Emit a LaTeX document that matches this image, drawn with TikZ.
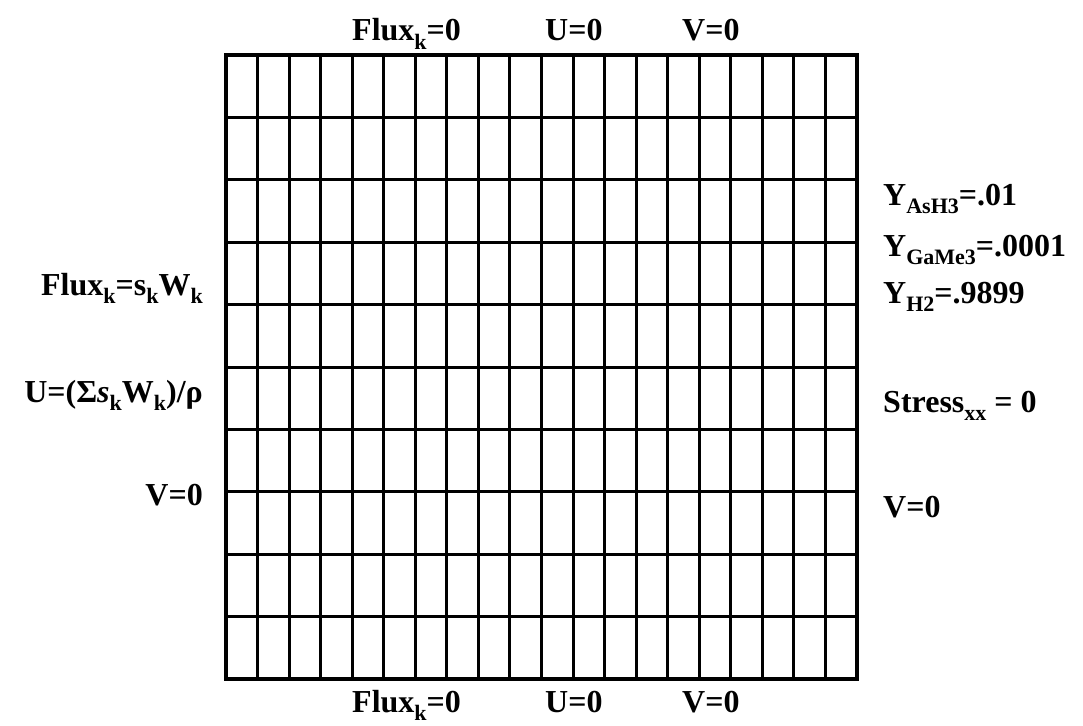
\documentclass[tikz,border=0pt]{standalone}
\usepackage{fontspec}
\setmainfont{Liberation Serif}
\newcommand{\lsub}[1]{\raisebox{-0.28em}{\fontsize{22}{22}\selectfont #1}}
\begin{document}
\begin{tikzpicture}[x=1pt,y=-1pt,
  lab/.style={font=\fontsize{32}{36}\selectfont\bfseries, inner sep=0pt},
  gridline/.style={line width=3pt},
  border/.style={line width=3.6pt}]
\useasboundingbox (0,0) rectangle (1083,725);
\foreach \i in {0,...,20} \draw[gridline] (226+\i*31.55,55) -- (226+\i*31.55,679);
\foreach \j in {0,...,10} \draw[gridline] (226,55+\j*62.4) -- (857,55+\j*62.4);
\draw[border] (226,55) rectangle (857,679);
% top
\node[lab,anchor=base west] (tflux) at (352,41) {Flux\lsub{k}=0};
\node[lab,anchor=base west] (tu) at (545,41) {U=0};
\node[lab,anchor=base west] (tv) at (682,41) {V=0};
% bottom
\node[lab,anchor=base west] (bflux) at (352,712) {Flux\lsub{k}=0};
\node[lab,anchor=base west] (bu) at (545,712) {U=0};
\node[lab,anchor=base west] (bv) at (682,712) {V=0};
% left
\node[lab,anchor=base east] (lflux) at (203,295) {Flux\lsub{k}=s\lsub{k}W\lsub{k}};
\node[lab,anchor=base east] (lu) at (203,402) {U=(Σ\textit{s}\lsub{k}W\lsub{k})/ρ};
\node[lab,anchor=base east] (lv) at (203,505) {V=0};
% right
\node[lab,anchor=base west] (ras) at (883,205) {Y\lsub{AsH3}=.01};
\node[lab,anchor=base west] (rga) at (883,256) {Y\lsub{GaMe3}=.0001};
\node[lab,anchor=base west] (rh) at (883,303) {Y\lsub{H2}=.9899};
\node[lab,anchor=base west] (rs) at (883,412) {Stress\lsub{xx} = 0};
\node[lab,anchor=base west] (rv) at (883,517) {V=0};
\end{tikzpicture}
\end{document}
